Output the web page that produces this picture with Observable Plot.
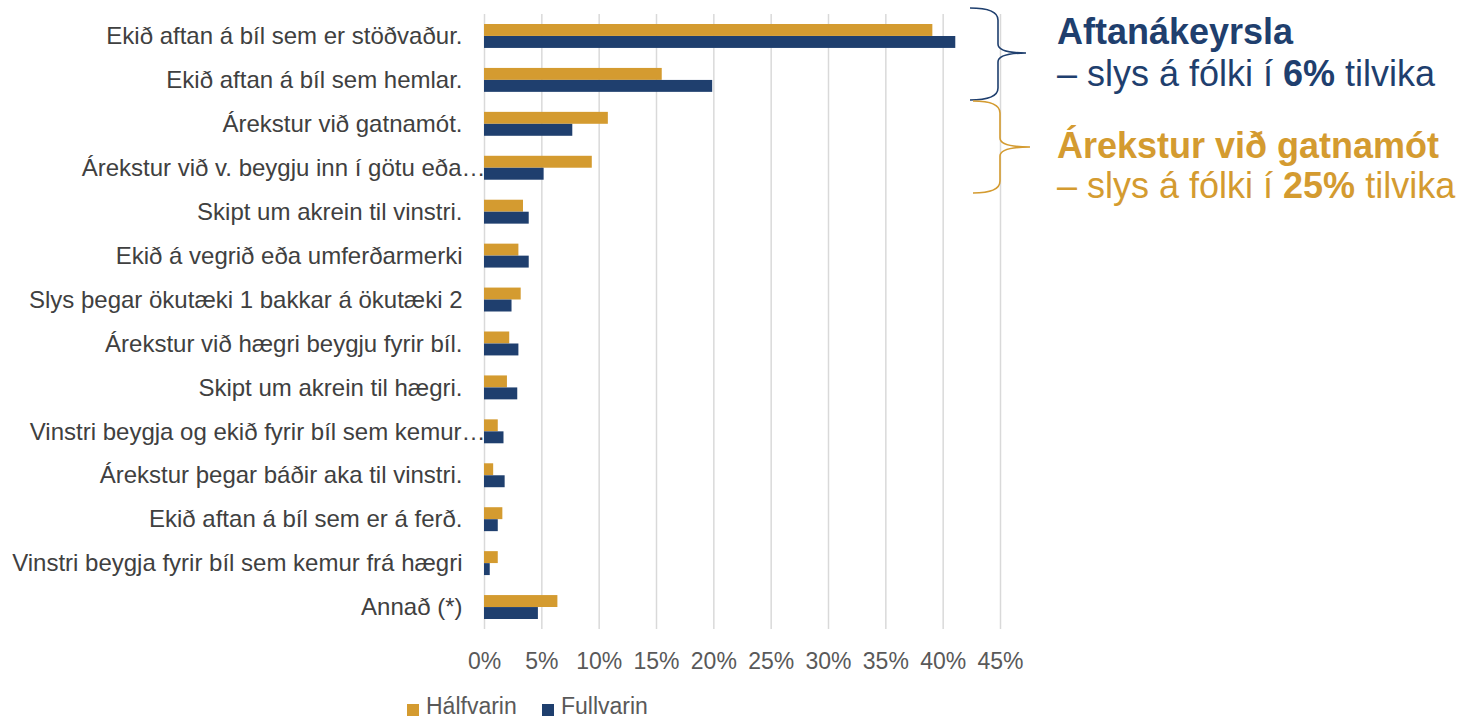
<!DOCTYPE html>
<html>
<head>
<meta charset="utf-8">
<script src="https://cdn.jsdelivr.net/npm/d3@7"></script>
<script src="https://cdn.jsdelivr.net/npm/@observablehq/plot@0.6"></script>
<style>
  html, body { margin: 0; padding: 0; background: #fff; }
  #wrap { position: relative; width: 1460px; height: 718px; font-family: "Liberation Sans", Arial, sans-serif; overflow: hidden; }
  #chart { position: absolute; left: 0; top: 0; }
  .ann { position: absolute; left: 1057px; white-space: nowrap; font-size: 36px; line-height: 1; }
  .legend { position: absolute; top: 695px; font-size: 23px; color: #595959; white-space: nowrap; line-height: 1; }
  .sw { position: absolute; width: 12px; height: 12px; }
</style>
</head>
<body>
<div id="wrap">
  <div id="chart"></div>
  <svg id="braces" width="1460" height="718" style="position:absolute;left:0;top:0;pointer-events:none"></svg>
  <div class="ann" style="top:14px;color:#1F3F6E;font-weight:bold">Aftanákeyrsla</div>
  <div class="ann" style="top:56px;color:#1F3F6E">– slys á fólki í <b>6%</b> tilvika</div>
  <div class="ann" style="top:128px;color:#D49B30;font-weight:bold">Árekstur við gatnamót</div>
  <div class="ann" style="top:168px;color:#D49B30">– slys á fólki í <b>25%</b> tilvika</div>
  <div class="sw" style="left:407px;top:704px;background:#D49B30"></div>
  <div class="legend" style="left:426px">Hálfvarin</div>
  <div class="sw" style="left:542px;top:704px;background:#1F3F6E"></div>
  <div class="legend" style="left:561px">Fullvarin</div>
</div>
<script>
const categories = [
  "Ekið aftan á bíl sem er stöðvaður.",
  "Ekið aftan á bíl sem hemlar.",
  "Árekstur við gatnamót.",
  "Árekstur við v. beygju inn í götu eða…",
  "Skipt um akrein til vinstri.",
  "Ekið á vegrið eða umferðarmerki",
  "Slys þegar ökutæki 1 bakkar á ökutæki 2",
  "Árekstur við hægri beygju fyrir bíl.",
  "Skipt um akrein til hægri.",
  "Vinstri beygja og ekið fyrir bíl sem kemur…",
  "Árekstur þegar báðir aka til vinstri.",
  "Ekið aftan á bíl sem er á ferð.",
  "Vinstri beygja fyrir bíl sem kemur frá hægri",
  "Annað (*)"
];
const halfvarin = [39.1, 15.5, 10.8, 9.4, 3.4, 3.0, 3.2, 2.2, 2.0, 1.2, 0.8, 1.6, 1.2, 6.4];
const fullvarin = [41.1, 19.9, 7.7, 5.2, 3.9, 3.9, 2.4, 3.0, 2.9, 1.7, 1.8, 1.2, 0.5, 4.7];
const xTicks = [0, 5, 10, 15, 20, 25, 30, 35, 40, 45];
const seriesNames = ["Hálfvarin", "Fullvarin"];
const gold = "#D49B30";
const blue = "#1F3F6E";

const rows = categories.map((c, i) => ({category: c, half: halfvarin[i], full: fullvarin[i]}));
const truncated = categories.filter(c => c.endsWith("…"));
const plain = categories.filter(c => !c.endsWith("…"));

const chart = Plot.plot({
  width: 1460,
  height: 680,
  marginLeft: 484,
  marginRight: 460,
  marginTop: 14,
  marginBottom: 51,
  style: {fontFamily: '"Liberation Sans", Arial, sans-serif', fontSize: "23px", background: "transparent"},
  x: {domain: [0, 45]},
  y: {domain: categories, padding: 0, round: false},
  marks: [
    Plot.gridX(xTicks, {stroke: "#D9D9D9", strokeOpacity: 1, strokeWidth: 1.5}),
    Plot.barX(rows, {x: "half", y: "category", fill: gold, insetTop: 10, insetBottom: 22}),
    Plot.barX(rows, {x: "full", y: "category", fill: blue, insetTop: 22, insetBottom: 10}),
    Plot.axisX({ticks: xTicks, tickFormat: d => d + "%", tickSize: 0, tickPadding: 23, label: null, fill: "#595959", fontSize: 23}),
    Plot.axisY({ticks: plain, tickSize: 0, tickPadding: 22, label: null, fill: "#404040", fontSize: 24}),
    Plot.axisY({ticks: truncated, tickSize: 0, tickPadding: 22, dx: 23, label: null, fill: "#404040", fontSize: 24})
  ]
});
document.getElementById("chart").appendChild(chart);

const br = d3.select("#braces");
br.append("path")
  .attr("d", "M970,8 Q998,8 998,20 L998,44 Q998,53 1026,53 Q998,53 998,62 L998,88 Q998,100 970,100")
  .attr("fill", "none").attr("stroke", blue).attr("stroke-width", 1.6);
br.append("path")
  .attr("d", "M973,101 Q1000,101 1000,113 L1000,138 Q1000,147 1030,147 Q1000,147 1000,156 L1000,181 Q1000,193 973,193")
  .attr("fill", "none").attr("stroke", gold).attr("stroke-width", 1.6);
</script>
</body>
</html>
